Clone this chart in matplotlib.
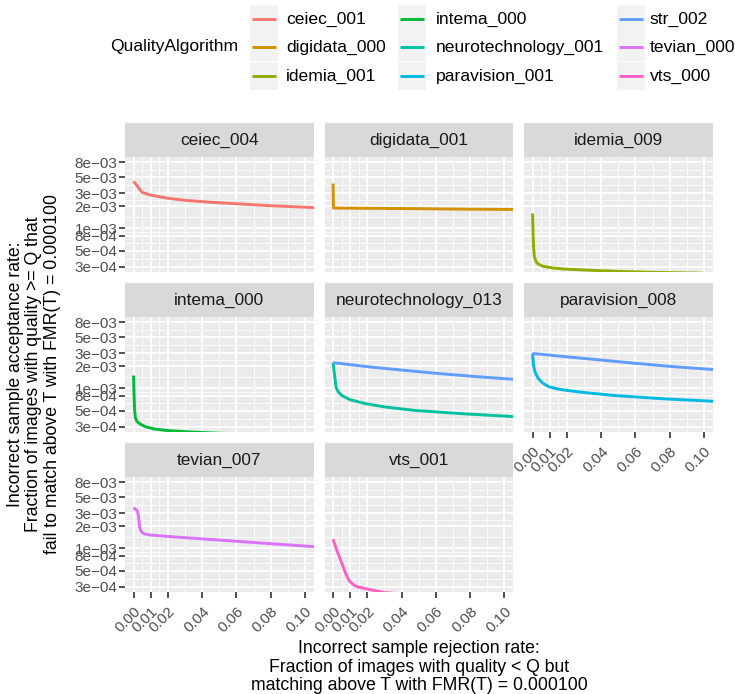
import matplotlib

matplotlib.use('Agg')
import numpy as np
import matplotlib.pyplot as plt
from matplotlib.lines import Line2D
from matplotlib.patches import Rectangle
from matplotlib.ticker import FixedLocator, NullFormatter

plt.rcParams['font.family'] = ['Liberation Sans', 'DejaVu Sans']

W, H = 735, 694

quality_algos = ['ceiec_001', 'digidata_000', 'idemia_001', 'intema_000', 'neurotechnology_001',
                 'paravision_001', 'str_002', 'tevian_000', 'vts_000']
algo_colors = ['#F8766D', '#D39200', '#93AA00', '#00BA38', '#00C19F',
               '#00B9E3', '#619CFF', '#DB72FB', '#FF61C3']

facets = ['ceiec_004', 'digidata_001', 'idemia_009', 'intema_000',
          'neurotechnology_013', 'paravision_008', 'tevian_007', 'vts_001']

x_breaks = [0.00, 0.01, 0.02, 0.04, 0.06, 0.08, 0.10]
x_labels = ['0.00', '0.01', '0.02', '0.04', '0.06', '0.08', '0.10']
y_breaks = [3e-4, 5e-4, 8e-4, 1e-3, 2e-3, 3e-3, 5e-3, 8e-3]
y_labels = ['3e\u221204', '5e\u221204', '8e\u221204', '1e\u221203',
            '2e\u221203', '3e\u221203', '5e\u221203', '8e\u221203']

# curves
ceiec_x = [0.0, 0.005, 0.01, 0.02, 0.03, 0.04, 0.06, 0.08, 0.10, 0.11]
ceiec_y = [4.4e-3, 3.1e-3, 2.85e-3, 2.58e-3, 2.42e-3, 2.32e-3, 2.17e-3, 2.04e-3, 1.95e-3, 1.9e-3]

digidata_x = [0.0, 0.0002, 0.02, 0.05, 0.08, 0.11]
digidata_y = [4.1e-3, 1.9e-3, 1.88e-3, 1.86e-3, 1.83e-3, 1.81e-3]

idemia_x = [0.0, 0.0003, 0.0006, 0.001, 0.0018, 0.003, 0.006, 0.012, 0.02, 0.035, 0.05, 0.07, 0.10]
idemia_y = [1.6e-3, 8.5e-4, 5.5e-4, 4.2e-4, 3.6e-4, 3.3e-4, 3.05e-4, 2.88e-4, 2.78e-4, 2.68e-4,
            2.6e-4, 2.52e-4, 2.45e-4]

intema_x = [0.0, 0.0003, 0.0006, 0.001, 0.002, 0.004, 0.007, 0.012, 0.02, 0.033, 0.05, 0.10]
intema_y = [1.5e-3, 8e-4, 5.2e-4, 4.0e-4, 3.55e-4, 3.25e-4, 3.0e-4, 2.8e-4, 2.66e-4, 2.55e-4,
            2.45e-4, 2.3e-4]

neuro_x = [0.0, 0.0005, 0.001, 0.0017, 0.003, 0.0052, 0.01, 0.019, 0.03, 0.048, 0.077, 0.11]
neuro_y = [2.25e-3, 1.8e-3, 1.43e-3, 1.04e-3, 9.0e-4, 8.0e-4, 7.0e-4, 6.2e-4, 5.6e-4, 5.0e-4,
           4.5e-4, 4.07e-4]

str_neuro_x = [0.0, 0.01, 0.02, 0.04, 0.06, 0.08, 0.10, 0.11]
str_neuro_y = [2.25e-3, 2.11e-3, 1.98e-3, 1.78e-3, 1.61e-3, 1.47e-3, 1.36e-3, 1.31e-3]

paravision_x = [0.0, 0.0005, 0.0015, 0.0034, 0.006, 0.0093, 0.014, 0.02, 0.03, 0.048, 0.0775, 0.11]
paravision_y = [3.0e-3, 2.1e-3, 1.65e-3, 1.36e-3, 1.18e-3, 1.06e-3, 9.9e-4, 9.4e-4, 8.8e-4, 8.0e-4,
                7.2e-4, 6.6e-4]

str_para_x = [0.0, 0.02, 0.04, 0.06, 0.08, 0.10, 0.11]
str_para_y = [3.0e-3, 2.7e-3, 2.44e-3, 2.2e-3, 2.0e-3, 1.85e-3, 1.78e-3]

tevian_x = [0.0, 0.0023, 0.003, 0.0035, 0.0045, 0.0058, 0.01, 0.0195, 0.04, 0.0584, 0.08, 0.11]
tevian_y = [3.6e-3, 3.25e-3, 2.6e-3, 1.96e-3, 1.7e-3, 1.59e-3, 1.52e-3, 1.46e-3, 1.35e-3, 1.26e-3,
            1.16e-3, 1.04e-3]

vts_x = [0.0, 0.0014, 0.0044, 0.0073, 0.0092, 0.0106, 0.0121, 0.0145, 0.018, 0.023, 0.03, 0.05, 0.10]
vts_y = [1.34e-3, 1.06e-3, 6.95e-4, 4.57e-4, 3.7e-4, 3.4e-4, 3.17e-4, 2.98e-4, 2.86e-4, 2.7e-4,
         2.5e-4, 2.3e-4, 2.1e-4]

curves = [
    ('ceiec_004', 'ceiec_001', ceiec_x, ceiec_y),
    ('digidata_001', 'digidata_000', digidata_x, digidata_y),
    ('idemia_009', 'idemia_001', idemia_x, idemia_y),
    ('intema_000', 'intema_000', intema_x, intema_y),
    ('neurotechnology_013', 'neurotechnology_001', neuro_x, neuro_y),
    ('neurotechnology_013', 'str_002', str_neuro_x, str_neuro_y),
    ('paravision_008', 'paravision_001', paravision_x, paravision_y),
    ('paravision_008', 'str_002', str_para_x, str_para_y),
    ('tevian_007', 'tevian_000', tevian_x, tevian_y),
    ('vts_001', 'vts_000', vts_x, vts_y),
]

# ggplot-like 5% expansion
xlim = (-0.005, 0.105)
lo, hi = np.log10(3e-4), np.log10(8e-3)
pad = 0.05 * (hi - lo)
ylim = (10 ** (lo - pad), 10 ** (hi + pad))

x_minor = [0.005, 0.015, 0.03, 0.05, 0.07, 0.09]
y_minor = list(np.sqrt(np.array(y_breaks[:-1]) * np.array(y_breaks[1:])))

fig = plt.figure(figsize=(W / 100, H / 100), dpi=100)

col_left = [125, 324.5, 524]
panel_w = 188.5
strip_top = [123, 283, 443]
strip_h = 34
panel_h = 115

axes = {}
for i, name in enumerate(facets):
    r, c = divmod(i, 3)
    left = col_left[c]
    top = strip_top[r] + strip_h
    ax = fig.add_axes([left / W, 1 - (top + panel_h) / H, panel_w / W, panel_h / H])
    ax.set_facecolor('#EBEBEB')
    for s in ax.spines.values():
        s.set_visible(False)
    ax.set_yscale('log')
    ax.set_xlim(*xlim)
    ax.set_ylim(*ylim)
    ax.set_xticks(x_breaks)
    ax.set_xticklabels(x_labels)
    ax.yaxis.set_major_locator(FixedLocator(y_breaks))
    ax.set_yticklabels(y_labels)
    ax.xaxis.set_minor_locator(FixedLocator(x_minor))
    ax.yaxis.set_minor_locator(FixedLocator(y_minor))
    ax.xaxis.set_minor_formatter(NullFormatter())
    ax.yaxis.set_minor_formatter(NullFormatter())
    ax.grid(which='major', color='white', linewidth=1.3)
    ax.grid(which='minor', color='white', linewidth=0.6)
    ax.set_axisbelow(True)
    ax.tick_params(which='minor', length=0)
    ax.tick_params(which='major', length=4, width=1.2, color='#333333',
                   labelcolor='#4D4D4D', labelsize=11)
    ax.tick_params(axis='y', pad=1.5)
    ax.tick_params(axis='x', pad=4.5)

    show_x = (r == 2) or (r == 1 and c == 2)
    show_y = (c == 0)
    ax.tick_params(axis='x', bottom=show_x, labelbottom=show_x)
    ax.tick_params(axis='y', left=show_y, labelleft=show_y)
    if show_x:
        for lab in ax.get_xticklabels():
            lab.set_rotation(45)
            lab.set_ha('right')
            lab.set_va('top')
            lab.set_rotation_mode('anchor')

    # strip
    sax = fig.add_axes([left / W, 1 - (strip_top[r] + strip_h) / H, panel_w / W, strip_h / H])
    sax.set_facecolor('#D9D9D9')
    sax.set_xticks([])
    sax.set_yticks([])
    for s in sax.spines.values():
        s.set_visible(False)
    sax.text(0.5, 0.5, name, ha='center', va='center', fontsize=12.4, color='#1A1A1A',
             transform=sax.transAxes)
    axes[name] = ax

for facet, algo, xs, ys in curves:
    color = algo_colors[quality_algos.index(algo)]
    axes[facet].plot(xs, ys, color=color, linewidth=2.1, solid_capstyle='butt',
                     solid_joinstyle='round')

# axis titles
fig.text(34 / W, 1 - 374.5 / H,
         'Incorrect sample acceptance rate:\nFraction of images with quality >= Q that\n'
         'fail to match above T with FMR(T) = 0.000100',
         rotation=90, ha='center', va='center', multialignment='center',
         fontsize=12.7, linespacing=1.1, color='black')
fig.text(419 / W, 1 - 667 / H,
         'Incorrect sample rejection rate:\nFraction of images with quality < Q but\n'
         'matching above T with FMR(T) = 0.000100',
         ha='center', va='center', multialignment='center',
         fontsize=12.7, linespacing=1.1, color='black')

# legend drawn by hand, ggplot style
fig.text(238 / W, 1 - 47 / H, 'QualityAlgorithm', ha='right', va='center', fontsize=12.6)
key_left = [250, 398, 617]
label_left = [286, 436, 650]
row_y = [19, 47, 76]
key_w, key_h = 28, 28.5
for i, algo in enumerate(quality_algos):
    c, r = divmod(i, 3)
    kx = key_left[c]
    ky = row_y[r]
    fig.patches.append(Rectangle((kx / W, 1 - (ky + key_h / 2) / H), key_w / W, key_h / H,
                                 transform=fig.transFigure, facecolor='#F2F2F2',
                                 edgecolor='none', zorder=0))
    fig.lines.append(Line2D([(kx + 2) / W, (kx + key_w - 2) / W], [1 - ky / H, 1 - ky / H],
                            transform=fig.transFigure, color=algo_colors[i], linewidth=2.1,
                            solid_capstyle='butt'))
    fig.text(label_left[c] / W, 1 - ky / H, algo, ha='left', va='center', fontsize=12.6)

fig.savefig('out.png', dpi=100)
